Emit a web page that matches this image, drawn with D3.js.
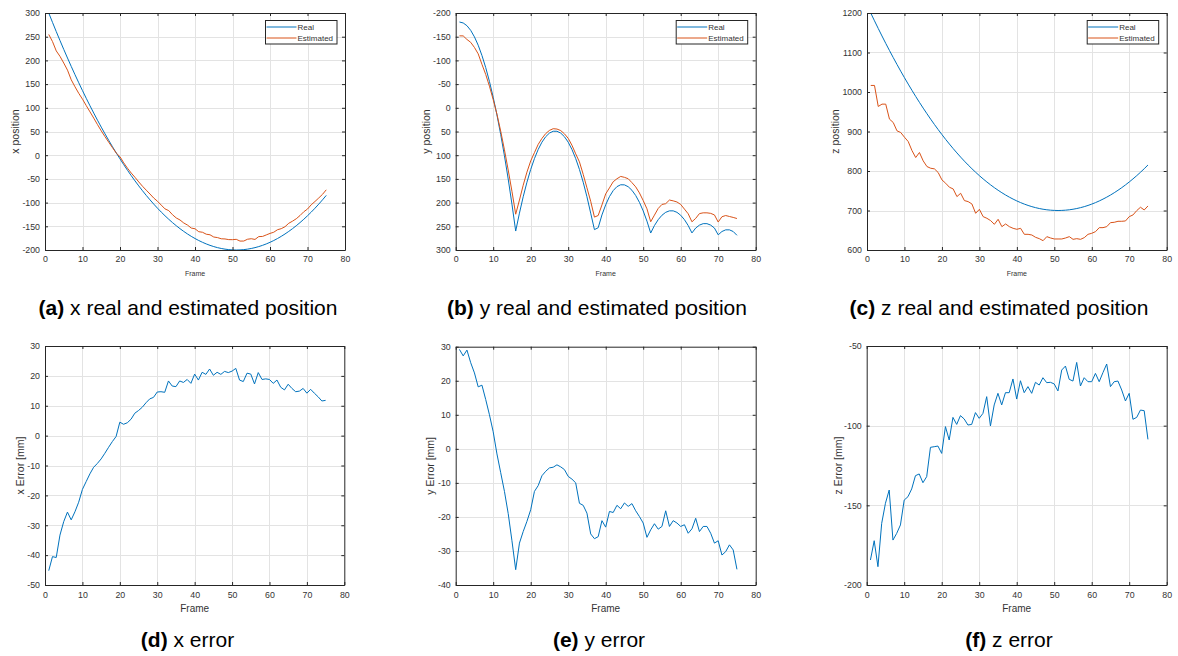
<!DOCTYPE html>
<html>
<head>
<meta charset="utf-8">
<script src="https://cdn.jsdelivr.net/npm/d3@7"></script>
<style>
  html, body { margin: 0; padding: 0; background: #fff; }
  svg { display: block; font-family: "Liberation Sans", Arial, Helvetica, sans-serif; }
</style>
</head>
<body>
<svg id="chart" width="1178" height="656"></svg>
<script>
// ---------- DATA ----------
const frames = [1,2,3,4,5,6,7,8,9,10,11,12,13,14,15,16,17,18,19,20,21,22,23,24,25,26,27,28,29,30,
  31,32,33,34,35,36,37,38,39,40,41,42,43,44,45,46,47,48,49,50,51,52,53,54,55,56,57,58,59,60,
  61,62,63,64,65,66,67,68,69,70,71,72,73,74,75];

const xReal = [300,280.2,260.8,241.8,223.2,205,187.2,169.8,152.8,136.2,120,104.2,88.8,73.8,59.2,45,31.2,17.8,4.8,-7.8,
  -20,-31.8,-43.2,-54.2,-64.8,-75,-84.8,-94.2,-103.2,-111.8,-120,-127.8,-135.2,-142.2,-148.8,-155,-160.8,-166.2,-171.2,-175.8,
  -180,-183.8,-187.2,-190.2,-192.8,-195,-196.8,-198.2,-199.2,-199.8,-200,-199.8,-199.2,-198.2,-196.8,-195,-192.8,-190.2,-187.2,-183.8,
  -180,-175.8,-171.2,-166.2,-160.8,-155,-148.8,-142.2,-135.2,-127.8,-120,-111.8,-103.2,-94.2,-84.8];
const xEst = [254.8,239.7,220,208.5,194.4,179.4,159,144.3,130.5,118.2,104.6,91.4,78.2,64.5,51.4,39.1,27.3,15.8,4.5,-3.3,
  -16.2,-27.5,-37.7,-46.7,-56.4,-65.5,-73.8,-81.9,-90.4,-97.2,-105.3,-113.3,-116.9,-125.6,-132.4,-136.7,-143,-147.4,-153.7,-155.2,
  -161.4,-162.6,-166.7,-167.9,-172.6,-173.8,-176.3,-176.7,-178.1,-178.2,-177.5,-181.2,-181.1,-177.3,-176.2,-177.7,-171.7,-171.4,-168.2,-165,
  -162.5,-157.2,-155,-150.9,-143.6,-139.2,-134.1,-127.3,-119.4,-113.6,-104.5,-97.6,-90.2,-82.6,-73];

const yReal = [-181,-179,-173.2,-163.4,-149.6,-132,-110.4,-85,-55.6,-22.2,15,56.2,101.2,150.2,203.2,260,
  222.3,187.7,157,130.1,107.1,87.9,72.5,61,53.3,49.5,49.5,53.3,61,72.5,87.9,107.1,130.1,157,187.7,222.3,257,
  253,226,204.6,187.4,174.7,166.3,162.4,162.6,166.5,174,185,199.5,217.5,239.1,264.2,
  248.4,236,226.7,220.5,217.4,217.4,220.5,226.7,236,248.4,264,
  253.7,247.5,244.4,244.4,247.5,253.7,268,
  261,257.5,257.5,261,269];
const yEst = [-151.8,-151.7,-144.2,-138.1,-127.3,-113.8,-91.7,-70.5,-45.6,-17.2,13.5,49.2,88.7,131.2,176.2,224.5,
  194.6,163.4,135.7,112.2,94.6,77.1,64.6,54.4,47.7,44.1,44.8,48,54.9,64.4,79,97.1,114.1,140.4,168.8,197.3,230.6,
  227.2,204.9,181.6,169,156,149.7,144.8,146.7,149.6,157.9,166.8,179.6,195.7,213.1,240.4,
  226.4,212.4,203.9,202.3,194.6,196.3,198.7,203.9,213.7,223.6,240.5,
  233.3,223.2,221.6,221.6,222.7,226,241,
  229.8,227.3,229.3,231.3,233.6];

const zReal = [1200,1180.2,1160.8,1141.8,1123.2,1105,1087.2,1069.8,1052.8,1036.2,1020,1004.2,988.8,973.8,959.2,945,931.2,917.8,904.8,892.2,
  880,868.2,856.8,845.8,835.2,825,815.2,805.8,796.8,788.2,780,772.2,764.8,757.8,751.2,745,739.2,733.8,728.8,724.2,
  720,716.2,712.8,709.8,707.2,705,703.2,701.8,700.8,700.2,700,700.2,700.8,701.8,703.2,705,707.2,709.8,712.8,716.2,
  720,724.2,728.8,733.8,739.2,745,751.2,757.8,764.8,772.2,780,788.2,796.8,805.8,815.2];
const zEst = [1016.6,1016.6,963.4,969.3,969.3,931.3,922.8,901.7,897.5,885.6,874.6,851.8,834.1,846.8,825.6,811.3,807,805.4,796.1,777.5,
  769,758.9,754.6,735.2,743.6,725.1,722.5,716.6,692.9,703,684.5,680.3,674.4,665,677.7,659.1,665.9,659.1,654.9,652.4,
  654.9,639.7,639.7,638,632.1,628.7,623.6,633.8,630.4,627.9,627.9,627.9,630.4,633.8,627,628.7,627,631.3,639.7,642.3,
  646.5,656.6,656.6,659.1,669.3,670.1,672.7,672.7,673.5,684.5,688.7,699.7,708.2,701.4,711.5];

const xErr = [-45.2,-40.5,-40.8,-33.3,-28.8,-25.6,-28.2,-25.5,-22.3,-18,-15.4,-12.8,-10.6,-9.3,-7.8,-5.9,-3.9,-2,-0.3,4.5,
  3.8,4.3,5.5,7.5,8.4,9.5,11,12.3,12.8,14.6,14.7,14.5,18.3,16.6,16.4,18.3,17.8,18.8,17.5,20.6,
  18.6,21.2,20.5,22.3,20.2,21.2,20.5,21.5,21.1,21.6,22.5,18.6,18.1,20.9,20.6,17.3,21.1,18.8,19,18.8,
  17.5,18.6,16.2,15.3,17.2,15.8,14.7,14.9,15.8,14.2,15.5,14.2,13,11.6,11.8];
const yErr = [29.2,27.3,29,25.3,22.3,18.2,18.7,14.5,10,5,-1.5,-7,-12.5,-19,-27,-35.5,-27.7,-24.3,-21.3,-17.9,
  -12.5,-10.8,-7.9,-6.6,-5.6,-5.4,-4.7,-5.3,-6.1,-8.1,-8.9,-10,-16,-16.6,-18.9,-25,-26.4,-25.8,-21.1,-23,
  -18.4,-18.7,-16.6,-17.6,-15.9,-16.9,-16.1,-18.2,-19.9,-21.8,-26,-23.8,-22,-23.6,-22.8,-18.2,-22.8,-21.1,-21.8,-22.8,
  -22.3,-24.8,-23.5,-20.4,-24.3,-22.8,-22.8,-24.8,-27.7,-27,-31.2,-30.2,-28.2,-29.7,-35.4];
const zErr = [-184.3,-172.2,-188.5,-161.3,-148.7,-140.4,-171.8,-167.6,-162.3,-146.7,-144.6,-139.7,-131.4,-130.3,-135.8,-132,-113.6,-113.2,-112.8,-117.4,
  -100.6,-109,-94.8,-99.2,-93.7,-95.8,-99.6,-99.2,-91.8,-95.4,-92.3,-81.8,-100.2,-87,-79.7,-87,-79.3,-79.3,-70.7,-83.3,
  -71.8,-79.3,-75.5,-79.7,-72.8,-74.5,-69.9,-73,-72.8,-73.8,-78.2,-65.1,-62.6,-70.9,-72,-60.3,-75.1,-69.9,-72.4,-72.4,
  -67.2,-72.4,-66.7,-61.3,-75.5,-72.4,-72,-77.6,-84.5,-79.7,-96,-94.8,-90.2,-90.6,-108.6];

const xTicks = [0,10,20,30,40,50,60,70,80];
const ticksXPos = [-200,-150,-100,-50,0,50,100,150,200,250,300];
const ticksYPos = [-200,-150,-100,-50,0,50,100,150,200,250,300];
const ticksZPos = [600,700,800,900,1000,1100,1200];
const ticksXErr = [-50,-40,-30,-20,-10,0,10,20,30];
const ticksYErr = [-40,-30,-20,-10,0,10,20,30];
const ticksZErr = [-200,-150,-100,-50];

const seriesNames = ["Real", "Estimated"];
const captions = [
  ["(a)", " x real and estimated position"],
  ["(b)", " y real and estimated position"],
  ["(c)", " z real and estimated position"],
  ["(d)", " x error"],
  ["(e)", " y error"],
  ["(f)", " z error"]
];

// ---------- STYLE ----------
const BLUE = "#0072BD", ORANGE = "#D95319";
const AXIS = "#262626", GRID = "#e3e3e3", TEXT = "#333333";

const svg = d3.select("#chart");
svg.append("rect").attr("width", 1178).attr("height", 656).attr("fill", "#fff");

function panel(cfg) {
  const g = svg.append("g");
  const x = d3.scaleLinear().domain([0, 80]).range([cfg.left, cfg.right]);
  const y = d3.scaleLinear().domain(cfg.yDomain)
    .range(cfg.reversed ? [cfg.top, cfg.bottom] : [cfg.bottom, cfg.top]);

  // grid
  g.append("g").selectAll("line").data(xTicks.slice(1, -1)).join("line")
    .attr("x1", d => Math.round(x(d)) + 0.5).attr("x2", d => Math.round(x(d)) + 0.5)
    .attr("y1", cfg.top).attr("y2", cfg.bottom)
    .attr("stroke", GRID).attr("stroke-width", 1);
  g.append("g").selectAll("line").data(cfg.yTicks.slice(1, -1)).join("line")
    .attr("y1", d => Math.round(y(d)) + 0.5).attr("y2", d => Math.round(y(d)) + 0.5)
    .attr("x1", cfg.left).attr("x2", cfg.right)
    .attr("stroke", GRID).attr("stroke-width", 1);

  // lines
  const lineGen = d3.line().x((d, i) => x(frames[i])).y(d => y(d));
  cfg.series.forEach(s => {
    g.append("path").datum(s.values).attr("d", lineGen)
      .attr("fill", "none").attr("stroke", s.color).attr("stroke-width", 1)
      .attr("stroke-linejoin", "round");
  });

  // axes
  const styleAxis = sel => {
    sel.selectAll(".domain").attr("stroke", AXIS).attr("stroke-width", 1);
    sel.selectAll(".tick line").attr("stroke", AXIS).attr("stroke-width", 1);
    sel.selectAll("text").attr("fill", TEXT).attr("font-size", cfg.tickFont + "px")
      .attr("font-family", "Liberation Sans, Arial, sans-serif");
  };
  g.append("g").attr("transform", `translate(0,${cfg.bottom})`)
    .call(d3.axisBottom(x).tickValues(xTicks).tickSize(-3).tickSizeOuter(0).tickPadding(cfg.xPad))
    .call(styleAxis);
  g.append("g").attr("transform", `translate(0,${cfg.top})`)
    .call(d3.axisTop(x).tickValues(xTicks).tickSize(-3).tickSizeOuter(0).tickFormat(""))
    .call(styleAxis);
  g.append("g").attr("transform", `translate(${cfg.left},0)`)
    .call(d3.axisLeft(y).tickValues(cfg.yTicks).tickSize(-3).tickSizeOuter(0).tickPadding(5).tickFormat(d3.format("d")))
    .call(styleAxis);
  g.append("g").attr("transform", `translate(${cfg.right},0)`)
    .call(d3.axisRight(y).tickValues(cfg.yTicks).tickSize(-3).tickSizeOuter(0).tickFormat(""))
    .call(styleAxis);
  g.selectAll(".tick text").each(function() {
    const t = d3.select(this); t.text(t.text().replace("\u2212", "-"));
  });

  // labels
  g.append("text").attr("x", (cfg.left + cfg.right) / 2).attr("y", cfg.xLabelY)
    .attr("text-anchor", "middle").attr("font-size", cfg.xLabelFont + "px").attr("fill", TEXT)
    .text("Frame");
  g.append("text")
    .attr("transform", `translate(${cfg.yLabelX},${(cfg.top + cfg.bottom) / 2}) rotate(-90)`)
    .attr("text-anchor", "middle").attr("dy", "0.35em").attr("font-size", "10.5px").attr("fill", TEXT)
    .text(cfg.yLabel);

  // legend
  if (cfg.legend) {
    const lx = cfg.right - 79.5, ly = cfg.top + 7.5, lw = 71.5, lh = 23.5;
    const lg = g.append("g");
    lg.append("rect").attr("x", lx).attr("y", ly).attr("width", lw).attr("height", lh)
      .attr("fill", "#fff").attr("stroke", AXIS).attr("stroke-width", 1);
    cfg.series.forEach((s, i) => {
      const yy = ly + 6.5 + i * 11;
      lg.append("line").attr("x1", lx + 1).attr("x2", lx + 31).attr("y1", yy).attr("y2", yy)
        .attr("stroke", s.color).attr("stroke-width", 1);
      lg.append("text").attr("x", lx + 32).attr("y", yy).attr("dy", "0.35em")
        .attr("font-size", "8px").attr("fill", TEXT).text(seriesNames[i]);
    });
  }

  // caption
  const cap = g.append("text").attr("x", cfg.capX).attr("y", cfg.capY)
    .attr("text-anchor", "middle").attr("font-size", "21px").attr("fill", "#000");
  cap.append("tspan").attr("font-weight", "bold").text(cfg.caption[0]);
  cap.append("tspan").text(cfg.caption[1]);
}

const topRow = { top: 13, bottom: 250, xPad: 6, tickFont: 8.8, xLabelY: 276, xLabelFont: 7, capY: 315 };
const botRow = { top: 346, bottom: 585, xPad: 7, tickFont: 8.8, xLabelY: 612, xLabelFont: 10, capY: 647 };

panel(Object.assign({}, topRow, {
  left: 45, right: 345, yDomain: [-200, 300], yTicks: ticksXPos, yLabel: "x position", yLabelX: 15,
  series: [{ values: xReal, color: BLUE }, { values: xEst, color: ORANGE }], legend: true,
  caption: captions[0], capX: 188
}));
panel(Object.assign({}, topRow, {
  left: 455.7, right: 755.7, yDomain: [-200, 300], reversed: true, yTicks: ticksYPos, yLabel: "y position", yLabelX: 426,
  series: [{ values: yReal, color: BLUE }, { values: yEst, color: ORANGE }], legend: true,
  caption: captions[1], capX: 597
}));
panel(Object.assign({}, topRow, {
  left: 867, right: 1166.7, yDomain: [600, 1200], yTicks: ticksZPos, yLabel: "z position", yLabelX: 835,
  series: [{ values: zReal, color: BLUE }, { values: zEst, color: ORANGE }], legend: true,
  caption: captions[2], capX: 999
}));
panel(Object.assign({}, botRow, {
  left: 45, right: 344.3, yDomain: [-50, 30], yTicks: ticksXErr, yLabel: "x Error [mm]", yLabelX: 20,
  series: [{ values: xErr, color: BLUE }], legend: false,
  caption: captions[3], capX: 187.5
}));
panel(Object.assign({}, botRow, {
  left: 455.7, right: 755.7, top: 346.7, yDomain: [-40, 30], yTicks: ticksYErr, yLabel: "y Error [mm]", yLabelX: 430,
  series: [{ values: yErr, color: BLUE }], legend: false,
  caption: captions[4], capX: 599
}));
panel(Object.assign({}, botRow, {
  left: 866.7, right: 1166.7, yDomain: [-200, -50], yTicks: ticksZErr, yLabel: "z Error [mm]", yLabelX: 838,
  series: [{ values: zErr, color: BLUE }], legend: false,
  caption: captions[5], capX: 1009
}));
</script>
</body>
</html>
